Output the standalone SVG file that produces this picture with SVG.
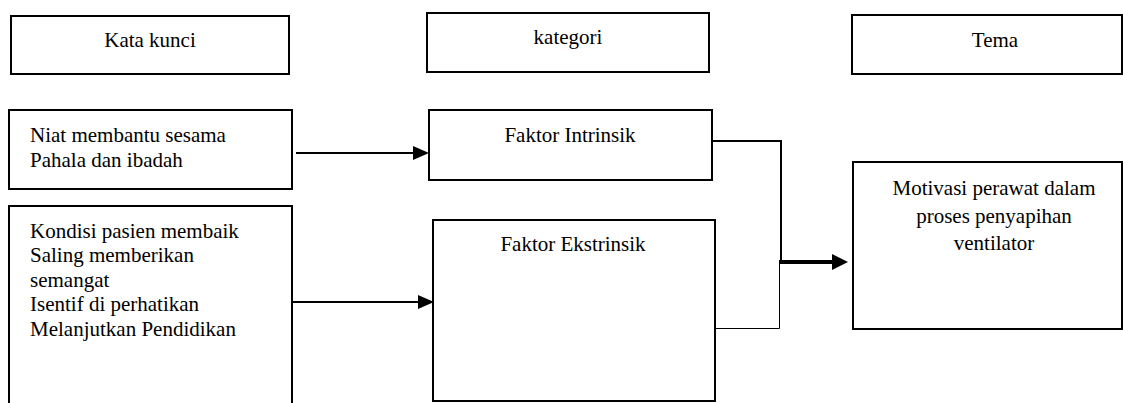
<svg xmlns="http://www.w3.org/2000/svg" width="1123" height="403" viewBox="0 0 1123 403">
<style>
  .box { fill: #ffffff; stroke: #000000; stroke-width: 2; }
  .t { font-size: 21px; fill: #000000; }
  .c { text-anchor: middle; }
  .ln { fill: none; stroke: #000000; stroke-width: 2; }
  .thin { fill: none; stroke: #000000; stroke-width: 1; }
  .thick { fill: none; stroke: #000000; stroke-width: 4; }
  .head { fill: #000000; stroke: none; }
</style>
<rect width="1123" height="403" fill="#ffffff"/>
<g id="connectors">
  <line class="ln" x1="296" y1="153" x2="414" y2="153"/>
  <polygon class="head" points="413,146 429,153 413,160"/>
  <line class="ln" x1="293" y1="302" x2="419" y2="302"/>
  <polygon class="head" points="418,295 434,302 418,309"/>
  <polyline class="ln" points="713,141 781,141 781,262"/>
  <polyline class="thin" points="716,328.5 779.5,328.5 779.5,262"/>
  <line class="thick" x1="779" y1="262" x2="833" y2="262"/>
  <polygon class="head" points="832,254 848,262 832,270"/>
</g>
<g font-family="Liberation Serif, Tinos, Times New Roman, DejaVu Serif, serif">
<g id="kata-kunci">
  <rect class="box" x="11" y="16" width="278" height="58"/>
  <text class="t c" x="150" y="47">Kata kunci</text>
</g>
<g id="kategori">
  <rect class="box" x="427" y="13" width="282" height="59"/>
  <text class="t c" x="568" y="44">kategori</text>
</g>
<g id="tema">
  <rect class="box" x="852" y="15" width="270" height="59"/>
  <text class="t c" x="995" y="47">Tema</text>
</g>
<g id="niat">
  <rect class="box" x="9" y="110" width="283" height="79"/>
  <text class="t" x="30" y="142">Niat membantu sesama</text>
  <text class="t" x="30" y="166.5">Pahala dan ibadah</text>
</g>
<g id="kondisi">
  <rect class="box" x="9" y="206" width="283" height="210"/>
  <text class="t" x="30" y="238">Kondisi pasien membaik</text>
  <text class="t" x="30" y="262">Saling memberikan</text>
  <text class="t" x="30" y="286.5">semangat</text>
  <text class="t" x="30" y="311">Isentif di perhatikan</text>
  <text class="t" x="30" y="335.5">Melanjutkan Pendidikan</text>
</g>
<g id="faktor-intrinsik">
  <rect class="box" x="429" y="110" width="283" height="70"/>
  <text class="t c" x="570" y="142">Faktor Intrinsik</text>
</g>
<g id="faktor-ekstrinsik">
  <rect class="box" x="433" y="220" width="282" height="181"/>
  <text class="t c" x="573" y="251">Faktor Ekstrinsik</text>
</g>
<g id="motivasi">
  <rect class="box" x="853" y="162" width="269" height="167"/>
  <text class="t c" x="994" y="195">Motivasi perawat dalam</text>
  <text class="t c" x="994" y="222.5">proses penyapihan</text>
  <text class="t c" x="994" y="250">ventilator</text>
</g>
</g>
</svg>
